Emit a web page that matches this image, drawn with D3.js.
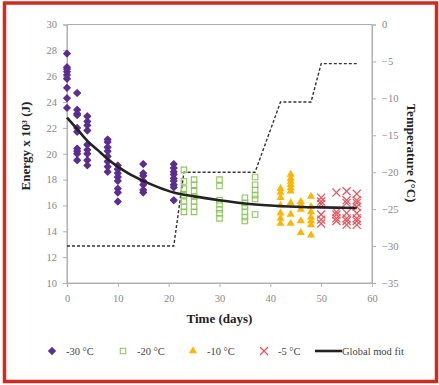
<!DOCTYPE html>
<html>
<head>
<meta charset="utf-8">
<script src="https://cdn.jsdelivr.net/npm/d3@7"></script>
<style>
  body { margin: 0; background: #fff; }
  text { font-family: "Liberation Serif", "DejaVu Serif", serif; }
</style>
</head>
<body>
<svg id="chart" width="439" height="385"></svg>
<script>
// Données (jour, énergie x 10^3 J)
const days30 = [0, 2, 4, 8, 10, 15, 21];
const energy30 = [
  [27.75, 26.7, 26.55, 26.35, 26.1, 25.8, 25.1, 24.3, 23.55],
  [24.7, 23.4, 23.1, 23.0, 22.0, 21.7, 20.4, 20.2, 20.0, 19.5],
  [22.9, 22.5, 22.2, 21.8, 20.7, 20.3, 20.0, 19.5, 19.1],
  [21.1, 20.9, 20.5, 20.2, 19.8, 19.4, 19.0, 18.6],
  [19.1, 18.8, 18.5, 18.2, 17.9, 17.3, 17.0, 16.3],
  [19.2, 18.5, 18.3, 17.9, 17.6, 17.2, 17.0],
  [19.2, 18.9, 18.6, 18.4, 18.1, 17.9, 17.6, 17.4, 16.4]
];

const days20 = [23, 25, 30, 35, 37];
const energy20 = [
  [18.75, 17.85, 17.3, 16.8, 16.3, 15.9, 15.5],
  [18.0, 17.6, 17.1, 16.7, 16.3, 15.9, 15.5],
  [18.0, 17.5, 16.4, 16.1, 15.7, 15.4, 15.0],
  [16.6, 16.2, 15.9, 15.5, 15.1, 14.8],
  [18.2, 17.6, 17.2, 16.8, 16.5, 15.3]
];

const days10 = [42, 44, 46, 48];
const energy10 = [
  [17.3, 17.0, 16.6, 16.0, 15.4, 15.0, 14.6],
  [18.4, 18.1, 17.85, 17.6, 17.35, 17.1, 16.2, 15.3, 14.6],
  [16.3, 16.05, 15.7, 14.8, 13.9],
  [16.7, 15.9, 15.5, 15.1, 14.8, 14.5, 13.7]
];

const days5 = [50, 53, 55, 57];
const energy5 = [
  [16.6, 16.3, 16.1, 15.3, 14.9, 14.6],
  [17.0, 15.5, 15.3, 15.0, 14.8],
  [17.1, 16.4, 16.2, 15.4, 15.0, 14.8, 14.5],
  [16.9, 16.4, 16.2, 15.9, 15.4, 15.0, 14.8, 14.5]
];

// Ajustement global
const fitDays = [0, 2, 4, 6, 8, 10, 12, 15, 18, 21, 25, 30, 35, 40, 45, 50, 57];
const fitEnergy = [22.8, 21.9, 21.0, 20.3, 19.6, 19.0, 18.5, 17.9, 17.4, 17.0, 16.7, 16.4, 16.15, 16.0, 15.9, 15.85, 15.8];

// Température de stockage (axe de droite)
const tempDays = [0, 21, 23, 37, 42, 48, 50, 57];
const tempValues = [-30, -30, -20, -20, -10.5, -10.5, -5.3, -5.3];

const xTicks = [0, 10, 20, 30, 40, 50, 60];
const yLeftTicks = [10, 12, 14, 16, 18, 20, 22, 24, 26, 28, 30];
const yRightTicks = [0, -5, -10, -15, -20, -25, -30, -35];

const legendLabels = ["-30 °C", "-20 °C", "-10 °C", "-5 °C", "Global mod fit"];

const colPurple = "#5c2d91";
const colGreen = "#8cc85a";
const colYellow = "#ffb400";
const colRed = "#f0505a";

const svg = d3.select("#chart");

// Cadre rouge
svg.append("rect")
  .attr("x", 4.5).attr("y", 3).attr("width", 432).attr("height", 378.5)
  .attr("fill", "none").attr("stroke", "#d42a1e").attr("stroke-width", 3.5);

const plotLeft = 67, plotRight = 372, plotTop = 24.5, plotBottom = 283;

const x = d3.scaleLinear().domain([0, 60]).range([plotLeft, plotRight]);
const yL = d3.scaleLinear().domain([10, 30]).range([plotBottom, plotTop]);
const yR = d3.scaleLinear().domain([-35, 0]).range([plotBottom, plotTop]);

// Boîte du graphique
svg.append("rect")
  .attr("x", plotLeft).attr("y", plotTop)
  .attr("width", plotRight - plotLeft).attr("height", plotBottom - plotTop)
  .attr("fill", "none").attr("stroke", "#b0b0b0").attr("stroke-width", 1);

function styleAxis(g) {
  g.select(".domain").attr("stroke", "#b0b0b0");
  g.selectAll(".tick line").attr("stroke", "#b0b0b0");
  g.selectAll(".tick text")
    .attr("fill", "#888")
    .style("font-size", "10.5px")
    .style("font-family", "Liberation Serif, serif");
}

svg.append("g")
  .attr("transform", `translate(0,${plotBottom})`)
  .call(d3.axisBottom(x).tickValues(xTicks).tickSize(4).tickPadding(8))
  .call(styleAxis);

svg.append("g")
  .attr("transform", `translate(${plotLeft},0)`)
  .call(d3.axisLeft(yL).tickValues(yLeftTicks).tickSize(4).tickPadding(6))
  .call(styleAxis);

svg.append("g")
  .attr("transform", `translate(${plotRight},0)`)
  .call(d3.axisRight(yR).tickValues(yRightTicks).tickSize(4).tickPadding(6))
  .call(styleAxis);

// Titres des axes
svg.append("text")
  .attr("x", (plotLeft + plotRight) / 2).attr("y", 323)
  .attr("text-anchor", "middle")
  .style("font-size", "13px").style("font-weight", "bold")
  .attr("fill", "#222")
  .text("Time (days)");

svg.append("text")
  .attr("transform", "translate(30,146) rotate(-90)")
  .attr("text-anchor", "middle")
  .style("font-size", "13px").style("font-weight", "bold")
  .attr("fill", "#222")
  .text("Energy x 10³ (J)");

svg.append("text")
  .attr("transform", "translate(407,153) rotate(90)")
  .attr("text-anchor", "middle")
  .style("font-size", "13px").style("font-weight", "bold")
  .attr("fill", "#222")
  .text("Temperature (°C)");

// Courbe de température (pointillés)
const tempLine = d3.line()
  .x((d, i) => x(tempDays[i]))
  .y(d => yR(d));
svg.append("path")
  .datum(tempValues)
  .attr("d", tempLine)
  .attr("fill", "none")
  .attr("stroke", "#333")
  .attr("stroke-width", 1.4)
  .attr("stroke-dasharray", "3,2");

// Points
function flatten(days, values) {
  const out = [];
  days.forEach((d, i) => values[i].forEach(v => out.push({ day: d, value: v })));
  return out;
}

const sym = (type, size) => d3.symbol().type(type).size(size);

svg.append("g").selectAll("path")
  .data(flatten(days30, energy30))
  .enter().append("path")
  .attr("transform", d => `translate(${x(d.day)},${yL(d.value)})`)
  .attr("d", sym(d3.symbolDiamond2, 28))
  .attr("fill", colPurple)
  .attr("stroke", colPurple).attr("stroke-width", 1.2)
  .attr("stroke-linejoin", "round");

svg.append("g").selectAll("path")
  .data(flatten(days20, energy20))
  .enter().append("path")
  .attr("transform", d => `translate(${x(d.day)},${yL(d.value)})`)
  .attr("d", sym(d3.symbolSquare, 30))
  .attr("fill", "none")
  .attr("stroke", colGreen).attr("stroke-width", 1.1);

svg.append("g").selectAll("path")
  .data(flatten(days10, energy10))
  .enter().append("path")
  .attr("transform", d => `translate(${x(d.day)},${yL(d.value)})`)
  .attr("d", sym(d3.symbolTriangle, 28))
  .attr("fill", colYellow);

svg.append("g").selectAll("path")
  .data(flatten(days5, energy5))
  .enter().append("path")
  .attr("transform", d => `translate(${x(d.day)},${yL(d.value)})`)
  .attr("d", sym(d3.symbolTimes, 44))
  .attr("fill", "none")
  .attr("stroke", colRed).attr("stroke-width", 1.2);

// Ajustement global
const fitLine = d3.line()
  .x((d, i) => x(fitDays[i]))
  .y(d => yL(d))
  .curve(d3.curveMonotoneX);
svg.append("path")
  .datum(fitEnergy)
  .attr("d", fitLine)
  .attr("fill", "none")
  .attr("stroke", "#222")
  .attr("stroke-width", 2.6);

// Légende
const legendY = 351;
const legend = svg.append("g");

legend.append("path")
  .attr("transform", `translate(52,${legendY})`)
  .attr("d", sym(d3.symbolDiamond2, 28)).attr("fill", colPurple)
  .attr("stroke", colPurple).attr("stroke-width", 1.2);
legend.append("path")
  .attr("transform", `translate(123,${legendY})`)
  .attr("d", sym(d3.symbolSquare, 30)).attr("fill", "none")
  .attr("stroke", colGreen).attr("stroke-width", 1.1);
legend.append("path")
  .attr("transform", `translate(193,${legendY})`)
  .attr("d", sym(d3.symbolTriangle, 28)).attr("fill", colYellow);
legend.append("path")
  .attr("transform", `translate(264,${legendY})`)
  .attr("d", sym(d3.symbolTimes, 44)).attr("fill", "none")
  .attr("stroke", colRed).attr("stroke-width", 1.2);
legend.append("line")
  .attr("x1", 315).attr("x2", 342).attr("y1", legendY).attr("y2", legendY)
  .attr("stroke", "#222").attr("stroke-width", 2.6);

const legendTextX = [66, 137, 207, 278, 342];
legendLabels.forEach((lab, i) => {
  legend.append("text")
    .attr("x", legendTextX[i]).attr("y", legendY + 3.5)
    .style("font-size", "10.5px")
    .attr("fill", "#444")
    .text(lab);
});
</script>
</body>
</html>
